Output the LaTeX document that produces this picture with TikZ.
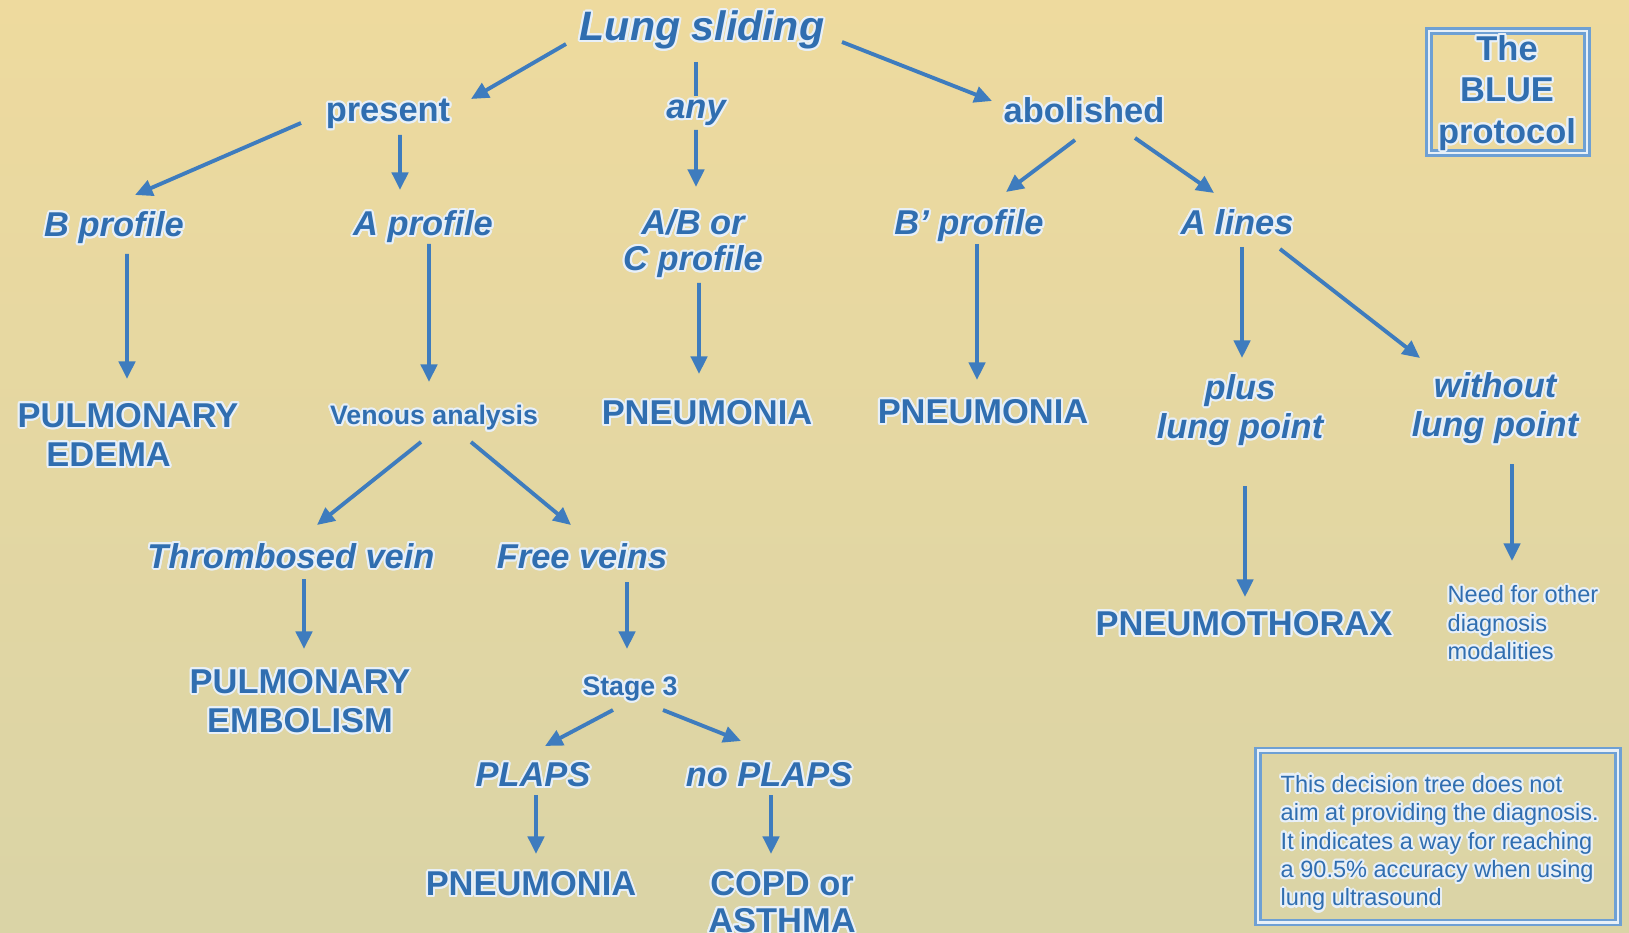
\documentclass[tikz,border=0pt]{standalone}
\usepackage{fontspec}
\setmainfont{Liberation Sans}
\usepackage{contour}
\usetikzlibrary{calc,arrows.meta}
\definecolor{tb}{RGB}{48,110,176}
\definecolor{arrc}{RGB}{62,124,190}
\definecolor{halo}{RGB}{232,240,248}
\definecolor{bgtop}{RGB}{238,218,158}
\definecolor{bgmid}{RGB}{226,221,176}
\definecolor{bgbot}{RGB}{218,212,166}
\definecolor{boxc}{RGB}{110,160,212}
\contourlength{0.6pt}
\newcommand\hl[1]{\contour{halo}{#1}}
\tikzset{
  lbl/.style={text=tb, inner sep=0pt, align=center, font=\fontsize{9.8}{11.2}\selectfont\bfseries},
  ilbl/.style={lbl, font=\fontsize{9.8}{11.2}\selectfont\bfseries\itshape},
  slbl/.style={lbl, font=\fontsize{7.6}{9}\selectfont\bfseries},
  tinylbl/.style={text=tb, inner sep=0pt, align=left, font=\fontsize{6.7}{8.1}\selectfont},
  arr/.style={draw=arrc, line width=1.1pt, -{Triangle[length=5pt,width=4.6pt]}},
  plainline/.style={draw=arrc, line width=1.1pt},
  framebox/.style={draw=boxc, line width=0.7pt, double=halo, double distance=0.7pt}
}
\begin{document}
\begin{tikzpicture}
\useasboundingbox (0,0) rectangle (16.29,-9.33);
\clip (0,0) rectangle (16.29,-9.33);
\shade[top color=bgtop, middle color=bgmid, bottom color=bgbot] (0,0) rectangle (16.29,-9.33);

% nodes
\node[ilbl, font=\fontsize{11.7}{13}\selectfont\bfseries\itshape] (ls) at (7.02,-0.31) {\hl{Lung sliding}};
\node[lbl] (pr) at (3.88,-1.15) {\hl{present}};
\node[ilbl] (any) at (6.96,-1.14) {\hl{any}};
\node[lbl] (ab) at (10.84,-1.11) {\hl{abolished}};
\node[ilbl] (bp) at (1.14,-2.29) {\hl{B profile}};
\node[ilbl] (ap) at (4.23,-2.28) {\hl{A profile}};
\node[ilbl, font=\fontsize{9.8}{10.2}\selectfont\bfseries\itshape] (abc) at (6.93,-2.45) {\hl{A/B or}\\\hl{C profile}};
\node[ilbl] (bpp) at (9.69,-2.27) {\hl{B' profile}};
\node[ilbl] (al) at (12.37,-2.23) {\hl{A lines}};
\node[lbl] (pe) at (1.28,-4.36) {\hl{PULMONARY}\\\hl{EDEMA}\hspace*{11pt}};
\node[slbl] (va) at (4.34,-4.19) {\hl{Venous analysis}};
\node[lbl] (pn1) at (7.07,-4.14) {\hl{PNEUMONIA}};
\node[lbl] (pn2) at (9.83,-4.13) {\hl{PNEUMONIA}};
\node[ilbl] (plp) at (12.40,-4.11) {\hl{plus}\\\hl{lung point}};
\node[ilbl] (wlp) at (14.95,-4.09) {\hl{without}\\\hl{lung point}};
\node[ilbl] (tv) at (2.91,-5.57) {\hl{Thrombosed vein}};
\node[ilbl] (fv) at (5.82,-5.57) {\hl{Free veins}};
\node[lbl] (pem) at (3.00,-7.02) {\hl{PULMONARY}\\\hl{EMBOLISM}};
\node[slbl] (s3) at (6.30,-6.90) {\hl{Stage 3}};
\node[lbl] (ptx) at (12.44,-6.25) {\hl{PNEUMOTHORAX}};
\node[tinylbl, anchor=west] (need) at (14.47,-6.24) {\hl{Need for other}\\\hl{diagnosis}\\\hl{modalities}};
\node[ilbl] (pl) at (5.33,-7.76) {\hl{PLAPS}};
\node[ilbl] (npl) at (7.69,-7.76) {\hl{no PLAPS}};
\node[lbl] (pn3) at (5.31,-8.85) {\hl{PNEUMONIA}};
\node[lbl, font=\fontsize{9.8}{10.6}\selectfont\bfseries] (copd) at (7.82,-9.03) {\hl{COPD or}\\\hl{ASTHMA}};

% boxes
\node[framebox, minimum width=1.58cm, minimum height=1.22cm, inner sep=0pt] (bluebox) at (15.08,-0.92) {};
\node[lbl, font=\fontsize{9.8}{11.8}\selectfont\bfseries] (bluetxt) at (15.07,-0.94) {\hl{The}\\\hl{BLUE}\\\hl{protocol}};
\node[framebox, minimum width=3.6cm, minimum height=1.72cm, inner sep=0pt] (notebox) at (14.38,-8.365) {};
\node[tinylbl, anchor=west] (notetxt) at (12.80,-8.44) {\hl{This decision tree does not}\\\hl{aim at providing the diagnosis.}\\\hl{It indicates a way for reaching}\\\hl{a 90.5\% accuracy when using}\\\hl{lung ultrasound}};

% connectors
\draw[arr] ($(ls)+(-1.36,-0.13)$) -- ($(pr)+(0.83,0.16)$);
\draw[plainline] ($(ls)+(-0.06,-0.31)$) -- ($(any)+(0,0.18)$);
\draw[arr] ($(ls)+(1.40,-0.11)$) -- ($(ab)+(-0.92,0.10)$);
\draw[arr] ($(pr)+(-0.87,-0.08)$) -- ($(bp)+(0.21,0.34)$);
\draw[arr] ($(pr)+(0.12,-0.20)$) -- ($(ap)+(-0.23,0.38)$);
\draw[arr] ($(any)+(0,-0.16)$) -- ($(abc)+(0.03,0.58)$);
\draw[arr] ($(ab)+(-0.09,-0.29)$) -- ($(bpp)+(0.37,0.35)$);
\draw[arr] ($(ab)+(0.51,-0.27)$) -- ($(al)+(-0.23,0.30)$);
\draw[arr] ($(bp)+(0.13,-0.25)$) -- ($(pe)+(-0.01,0.57)$);
\draw[arr] ($(ap)+(0.06,-0.16)$) -- ($(va)+(-0.05,0.37)$);
\draw[arr] ($(abc)+(0.06,-0.38)$) -- ($(pn1)+(-0.08,0.40)$);
\draw[arr] ($(bpp)+(0.08,-0.17)$) -- ($(pn2)+(-0.06,0.33)$);
\draw[arr] ($(al)+(0.05,-0.24)$) -- ($(plp)+(0.02,0.53)$);
\draw[arr] ($(al)+(0.43,-0.26)$) -- ($(wlp)+(-0.75,0.51)$);
\draw[arr] ($(va)+(-0.13,-0.23)$) -- ($(tv)+(0.26,0.32)$);
\draw[arr] ($(va)+(0.37,-0.23)$) -- ($(fv)+(-0.11,0.32)$);
\draw[arr] ($(plp)+(0.05,-0.75)$) -- ($(ptx)+(0.01,0.28)$);
\draw[arr] ($(wlp)+(0.17,-0.55)$) -- ($(need.west)+(0.65,0.63)$);
\draw[arr] ($(tv)+(0.13,-0.22)$) -- ($(pem)+(0.04,0.53)$);
\draw[arr] ($(fv)+(0.45,-0.25)$) -- ($(s3)+(-0.03,0.41)$);
\draw[arr] ($(s3)+(-0.17,-0.20)$) -- ($(pl)+(0.12,0.30)$);
\draw[arr] ($(s3)+(0.33,-0.20)$) -- ($(npl)+(-0.28,0.35)$);
\draw[arr] ($(pl)+(0.03,-0.19)$) -- ($(pn3)+(0.05,0.31)$);
\draw[arr] ($(npl)+(0.02,-0.19)$) -- ($(copd)+(-0.11,0.49)$);
\end{tikzpicture}
\end{document}
